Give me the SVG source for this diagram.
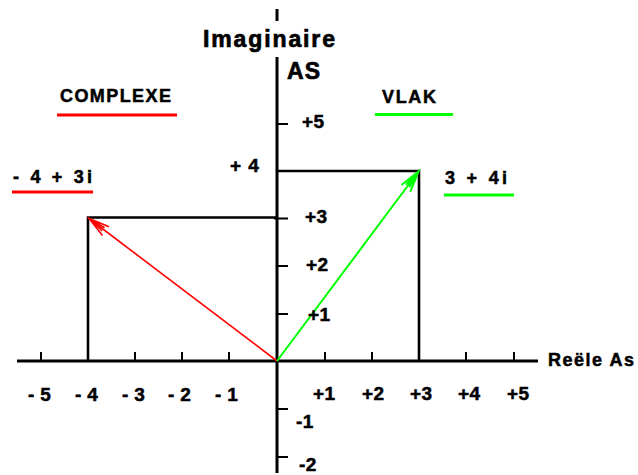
<svg xmlns="http://www.w3.org/2000/svg" width="638" height="475" viewBox="0 0 638 475">
<style>
text{font-family:"Liberation Sans",Arial,sans-serif;font-weight:bold;fill:#000;stroke:#000;stroke-width:0.5}
.big{font-size:23px;stroke-width:0.7}
.lbl{font-size:18px}
.num{font-size:19px;letter-spacing:0.3px}
.ax{stroke:#000;stroke-width:3;fill:none}
.tk{stroke:#000;stroke-width:2;fill:none}
.bx{stroke:#000;stroke-width:2.6;fill:none}
.red{stroke:#ff0000}
.grn{stroke:#00ff00}
</style>
<defs>
<marker id="ahR" markerUnits="userSpaceOnUse" markerWidth="30" markerHeight="20" refX="0" refY="0" viewBox="-24 -10 30 20" orient="auto">
<path d="M-21,-5.5 L0,0 L-21,5.5 M-18,-2 L0,0 L-18,2" fill="none" stroke="#ff0000" stroke-width="1.6"/>
</marker>
<marker id="ahG" markerUnits="userSpaceOnUse" markerWidth="30" markerHeight="20" refX="0" refY="0" viewBox="-24 -10 30 20" orient="auto">
<path d="M-21,-5.5 L0,0 L-21,5.5 M-18,-2 L0,0 L-18,2" fill="none" stroke="#00ff00" stroke-width="2"/>
</marker>
</defs>
<rect width="638" height="475" fill="#fff"/>
<g id="axes">
<line class="ax" x1="277" y1="9" x2="277" y2="21"/>
<line class="ax" x1="277" y1="57" x2="277" y2="473"/>
<line class="ax" x1="17" y1="361" x2="538" y2="361"/>
<path class="tk" d="M277,124H288 M274,218.5H288 M277,266H288 M277,314H288 M277,409H288 M277,457H288"/>
<path class="tk" d="M41,361V352 M135,361V352 M182,361V352 M229,361V352 M325,361V352 M372,361V352 M466,361V352 M514,361V352"/>
</g>
<g id="boxes">
<path class="bx" d="M88,361V217.5H277"/>
<path class="bx" d="M277,171H419V361"/>
</g>
<g id="connectors">
<line x1="277" y1="361" x2="89" y2="218.5" stroke="#ff0000" stroke-width="1.6" marker-end="url(#ahR)"/>
<line x1="277" y1="361" x2="418.5" y2="171.5" stroke="#00ff00" stroke-width="2" marker-end="url(#ahG)"/>
</g>
<g id="titles">
<text class="big" x="203" y="47" textLength="132" lengthAdjust="spacing">Imaginaire</text>
<text class="big" x="287" y="79" textLength="33" lengthAdjust="spacing">AS</text>
<text class="lbl" x="548" y="366" textLength="86" lengthAdjust="spacing">Reële As</text>
</g>
<g id="complexe">
<text class="lbl" x="60" y="101.5" textLength="111" lengthAdjust="spacing">COMPLEXE</text>
<line class="red" x1="57" y1="115" x2="177" y2="115" stroke-width="2.8"/>
</g>
<g id="vlak">
<text class="lbl" x="382" y="103" textLength="54" lengthAdjust="spacing">VLAK</text>
<line class="grn" x1="375" y1="114.5" x2="453" y2="114.5" stroke-width="2.8"/>
</g>
<g id="point-neg">
<text class="lbl" x="13" y="183" textLength="79" lengthAdjust="spacing" font-size="20">- 4 + 3i</text>
<line class="red" x1="12" y1="192" x2="93" y2="192" stroke-width="2.8"/>
</g>
<g id="point-pos">
<text class="lbl" x="445" y="184" textLength="62" lengthAdjust="spacing" font-size="20">3 + 4i</text>
<line class="grn" x1="444" y1="195" x2="514" y2="195" stroke-width="2.8"/>
</g>
<g id="y-labels">
<text class="num" x="230" y="172" textLength="29" lengthAdjust="spacing">+ 4</text>
<text class="num" x="302" y="128">+5</text>
<text class="num" x="305" y="223">+3</text>
<text class="num" x="306" y="271">+2</text>
<text class="num" x="308" y="321">+1</text>
<text class="num" x="296" y="428">-1</text>
<text class="num" x="299" y="471">-2</text>
</g>
<g id="x-labels">
<text class="num" x="28" y="401">- 5</text>
<text class="num" x="75" y="401">- 4</text>
<text class="num" x="122" y="401">- 3</text>
<text class="num" x="168" y="401">- 2</text>
<text class="num" x="215" y="401">- 1</text>
<text class="num" x="313" y="400">+1</text>
<text class="num" x="362" y="400">+2</text>
<text class="num" x="410" y="400">+3</text>
<text class="num" x="458" y="400">+4</text>
<text class="num" x="507" y="400">+5</text>
</g>
</svg>
